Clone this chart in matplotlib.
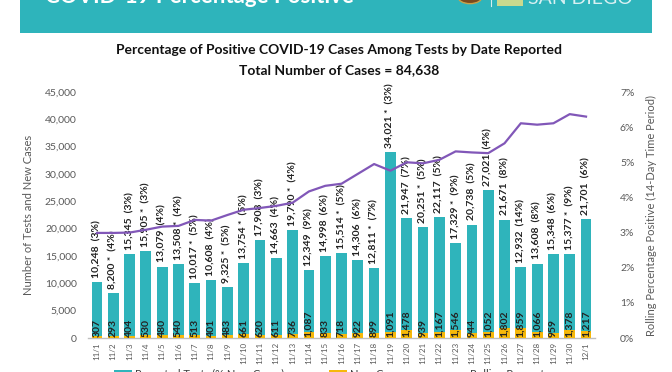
import matplotlib
matplotlib.use("Agg")
import matplotlib.pyplot as plt
from matplotlib.patches import Rectangle, Circle
from matplotlib.lines import Line2D
from matplotlib.patches import Patch
import numpy as np

plt.rcParams['font.family'] = ['Lato', 'DejaVu Sans']

dates = ["11/1", "11/2", "11/3", "11/4", "11/5", "11/6", "11/7", "11/8", "11/9", "11/10",
         "11/11", "11/12", "11/13", "11/14", "11/15", "11/16", "11/17", "11/18", "11/19", "11/20",
         "11/21", "11/22", "11/23", "11/24", "11/25", "11/26", "11/27", "11/28", "11/29", "11/30", "12/1"]
tests = [10248, 8200, 15345, 15905, 13079, 13508, 10017, 10608, 9325, 13754,
         17908, 14663, 19790, 12349, 14998, 15514, 14306, 12811, 34021, 21947,
         20251, 22117, 17329, 20738, 27021, 21671, 12932, 13608, 15348, 15377, 21701]
new_cases = [307, 293, 404, 530, 480, 540, 513, 401, 483, 661,
             620, 611, 736, 1087, 833, 718, 922, 899, 1091, 1478,
             939, 1167, 1546, 944, 1052, 1802, 1859, 1066, 959, 1378, 1217]
pct_new = [3, 4, 3, 3, 4, 4, 5, 4, 5, 5,
           3, 4, 4, 9, 6, 5, 6, 7, 3, 7,
           5, 5, 9, 5, 4, 8, 14, 8, 6, 9, 6]
starred = [0, 1, 0, 1, 0, 1, 1, 0, 1, 1,
           0, 0, 1, 0, 0, 1, 0, 1, 1, 0,
           1, 0, 1, 0, 0, 0, 0, 0, 0, 1, 0]
rolling = [2.99, 2.99, 3.00, 3.08, 3.17, 3.19, 3.36, 3.34, 3.50, 3.65,
           3.70, 3.76, 3.85, 4.17, 4.33, 4.39, 4.67, 4.95, 4.76, 5.00,
           4.97, 5.07, 5.31, 5.28, 5.26, 5.54, 6.11, 6.07, 6.11, 6.37, 6.30]

TEAL = "#2fb4bb"
GOLD = "#f6b80a"
PURPLE = "#8157b8"
GRAY = "#595959"
DARK = "#222222"

W, H = 672, 372
fig = plt.figure(figsize=(W / 100, H / 100), dpi=100)
fig.patch.set_facecolor("white")

# banner
fig.patches.append(Rectangle((20 / W, 1 - 33 / H), 632 / W, 33 / H + 0.01,
                             transform=fig.transFigure, facecolor="#2eb4bb",
                             edgecolor="none", zorder=0))
fig.text(45 / W, 1 - 3 / H, "COVID-19 Percentage Positive", color="white",
         fontsize=16, fontweight="bold", ha="left", va="baseline")
fig.patches.append(Circle((470 / W, 1 + 3 / H), 12 / W, transform=fig.transFigure,
                          facecolor="#7a4a1e", edgecolor="#c9a24a", lw=1.0, zorder=1))
fig.add_artist(Line2D([491 / W, 491 / W], [1 - 6 / H, 1.0], transform=fig.transFigure,
                      color="#d6eef0", lw=0.8))
fig.patches.append(Rectangle((497 / W, 1 - 6 / H), 26 / W, 8 / H, transform=fig.transFigure,
                             facecolor="#c9d98e", edgecolor="none", zorder=1))
fig.text(528 / W, 1 - 4 / H, "SAN DIEGO", color="#d8f0f2", fontsize=14,
         ha="left", va="baseline")

# titles
fig.text(339 / W, 1 - 50 / H, "Percentage of Positive COVID-19 Cases Among Tests by Date Reported",
         ha="center", va="center", fontsize=10, fontweight="bold", color="#111111")
fig.text(339 / W, 1 - 70 / H, "Total Number of Cases = 84,638",
         ha="center", va="center", fontsize=10, fontweight="bold", color="#111111")

ax = fig.add_axes([88 / W, (H - 338) / H, (595 - 88) / W, (338 - 92) / H])
x = np.arange(len(dates))
bw = 0.66
ax.bar(x, tests, width=bw, color=TEAL, zorder=2)
ax.bar(x, new_cases, width=bw, color=GOLD, zorder=3)

for i in range(len(x)):
    lab = f"{tests[i]:,}" + (" *" if starred[i] else "") + f"  ({pct_new[i]}%)"
    ax.annotate(lab, (x[i], tests[i]), xytext=(0, 3), textcoords="offset points",
                rotation=90, ha="center", va="bottom", fontsize=7.5, color=DARK,
                fontweight="bold", zorder=5)
    ax.annotate(f"{new_cases[i]:,}", (x[i], 0), xytext=(0, 1), textcoords="offset points",
                rotation=90, ha="center", va="bottom", fontsize=7.5, color=DARK,
                fontweight="bold", zorder=5)

ax.set_xlim(-0.55, len(x) - 0.45)
ax.set_ylim(0, 45000)
ax.set_yticks(np.arange(0, 45001, 5000))
ax.set_yticklabels([f"{v:,}" for v in range(0, 45001, 5000)])
ax.set_xticks(x)
ax.set_xticklabels(dates, rotation=90)
ax.tick_params(axis="both", length=0, labelsize=7.5, labelcolor=GRAY)
ax.tick_params(axis="x", pad=3, labelsize=5.8)
ax.tick_params(axis="y", pad=8)
for s in ["top", "right", "left"]:
    ax.spines[s].set_visible(False)
ax.spines["bottom"].set_color("#bfbfbf")
ax.spines["bottom"].set_linewidth(1.0)
ax.set_ylabel("Number of Tests and New Cases", fontsize=8, color=GRAY, labelpad=8)

ax2 = ax.twinx()
ax2.plot(x, rolling, color=PURPLE, lw=1.6, zorder=4)
ax2.set_ylim(0, 7)
ax2.set_yticks(range(0, 8))
ax2.set_yticklabels([f"{v}%" for v in range(0, 8)])
ax2.tick_params(axis="y", length=0, labelsize=7.5, labelcolor=GRAY, pad=18)
for s in ["top", "right", "left", "bottom"]:
    ax2.spines[s].set_visible(False)
ax2.set_ylabel("Rolling Percentage Positive (14-Day Time Period)", fontsize=8,
               color=GRAY, labelpad=8)

handles = [Patch(facecolor=TEAL), Patch(facecolor=GOLD), Line2D([0], [0], color=PURPLE, lw=2)]
labels = ["Reported Tests (% New Cases)", "New Cases", "Rolling Percentage"]
fig.legend(handles, labels, loc="center", bbox_to_anchor=(338 / W, 1 - 374 / H),
           ncol=3, frameon=False, fontsize=8, handlelength=1.6, handletextpad=0.3,
           columnspacing=4.0, labelcolor="#404040")

fig.savefig("out.png", dpi=100)
